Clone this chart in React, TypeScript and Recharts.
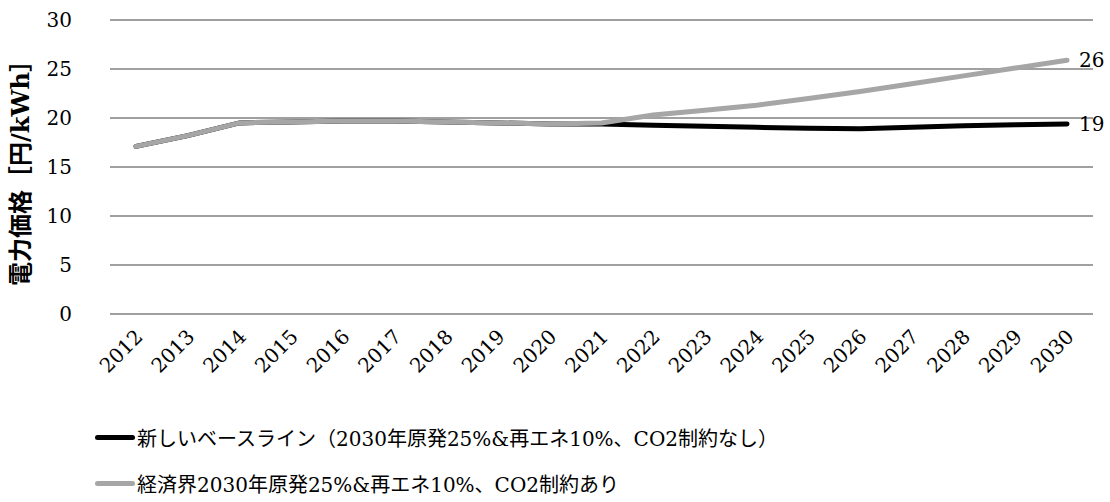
import { LineChart, Line, XAxis, YAxis, CartesianGrid, Legend, LabelList } from "recharts";

const years = ["2012", "2013", "2014", "2015", "2016", "2017", "2018", "2019", "2020", "2021",
  "2022", "2023", "2024", "2025", "2026", "2027", "2028", "2029", "2030"];
const baseline = [17.1, 18.2, 19.5, 19.6, 19.7, 19.7, 19.6, 19.5, 19.4, 19.4,
  19.25, 19.15, 19.05, 18.95, 18.9, 19.05, 19.2, 19.3, 19.4];
const keidanren = [17.1, 18.2, 19.5, 19.6, 19.7, 19.7, 19.6, 19.5, 19.4, 19.5,
  20.3, 20.8, 21.3, 22.0, 22.7, 23.5, 24.3, 25.1, 25.9];
const yTicks = [0, 5, 10, 15, 20, 25, 30];
const seriesNames = [
  "新しいベースライン（2030年原発25%&再エネ10%、CO2制約なし）",
  "経済界2030年原発25%&再エネ10%、CO2制約あり",
];

const data = years.map((year, i) => ({ year, baseline: baseline[i], keidanren: keidanren[i] }));

const serif = "'DejaVu Serif', 'Noto Sans CJK JP', serif";
const BLACK = "#000000";
const GREY = "#a6a6a6";

const YearTick = ({ x, y, payload }: any) => (
  <text
    x={x + 8}
    y={y + 16}
    transform={`rotate(-45, ${x + 8}, ${y + 16})`}
    textAnchor="end"
    fontSize={20}
    fontFamily={serif}
    fill="#000"
  >
    {payload.value}
  </text>
);

const EndLabel = ({ x, y, value, index }: any) => {
  if (index !== years.length - 1) return null;
  return (
    <text x={x + 12} y={y} dy={7} fontSize={20} fontFamily={serif} fill="#000">
      {Math.round(value)}
    </text>
  );
};

const LegendBox = () => (
  <div
    style={{
      height: 108,
      boxSizing: "border-box",
      paddingTop: 27,
      paddingLeft: 95,
      fontFamily: serif,
      fontSize: 20,
      color: "#000",
    }}
  >
    {seriesNames.map((name, i) => (
      <div key={name} style={{ display: "flex", alignItems: "center", height: 32, marginBottom: 14 }}>
        <span style={{ width: 40, height: 5, background: i === 0 ? BLACK : GREY, borderRadius: 3, marginRight: 2 }} />
        <span style={{ whiteSpace: "nowrap" }}>{name}</span>
      </div>
    ))}
  </div>
);

export default function App() {
  return (
    <div style={{ position: "absolute", left: 0, top: 0, width: 1110, height: 502, background: "#fff" }}>
      <LineChart width={1110} height={502} data={data} margin={{ top: 20, right: 17, left: 0, bottom: 0 }}>
        <CartesianGrid horizontal vertical={false} stroke="#a0a0a0" strokeWidth={2} />
        <XAxis
          dataKey="year"
          interval={0}
          height={80}
          padding={{ left: 26, right: 26 }}
          axisLine={false}
          tickLine={false}
          tick={<YearTick />}
        />
        <YAxis
          width={110}
          domain={[0, 30]}
          ticks={yTicks}
          axisLine={false}
          tickLine={false}
          tickSize={0}
          tickMargin={38}
          tick={{ fontSize: 20, fontFamily: serif, fill: "#000" }}
          label={{
            value: "電力価格［円/kWh］",
            angle: -90,
            position: "insideLeft",
            offset: 20,
            style: { textAnchor: "middle", fontSize: 24, fontWeight: "bold", fontFamily: serif, fill: "#000" },
          }}
        />
        <Legend verticalAlign="bottom" align="left" content={<LegendBox />} wrapperStyle={{ left: 0, bottom: 0 }} />
        <Line
          dataKey="baseline"
          name={seriesNames[0]}
          stroke={BLACK}
          strokeWidth={5}
          strokeLinecap="round"
          dot={false}
          isAnimationActive={false}
        >
          <LabelList dataKey="baseline" content={<EndLabel />} />
        </Line>
        <Line
          dataKey="keidanren"
          name={seriesNames[1]}
          stroke={GREY}
          strokeWidth={5}
          strokeLinecap="round"
          dot={false}
          isAnimationActive={false}
        >
          <LabelList dataKey="keidanren" content={<EndLabel />} />
        </Line>
      </LineChart>
    </div>
  );
}
